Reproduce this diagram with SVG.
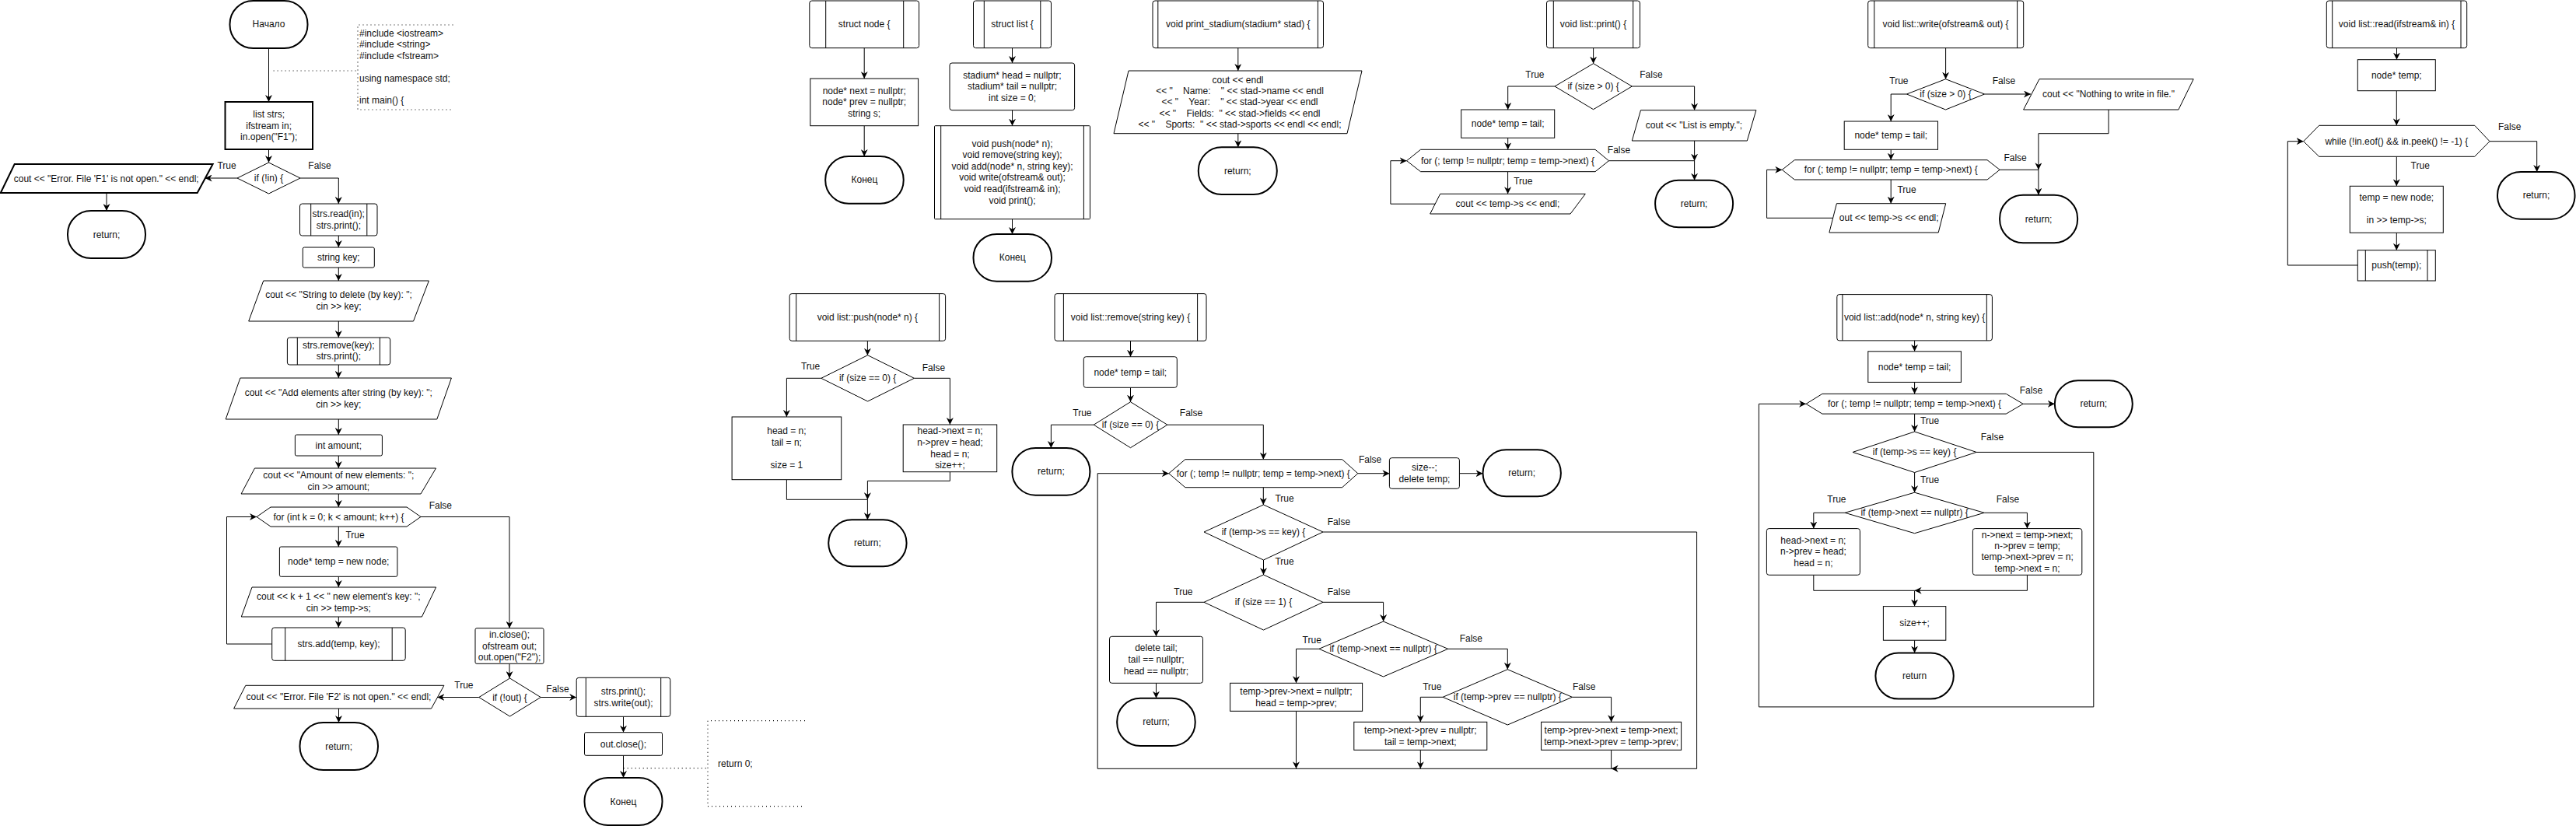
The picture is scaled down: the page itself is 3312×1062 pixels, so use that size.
<svg xmlns="http://www.w3.org/2000/svg" width="3312" height="1062" viewBox="0 0 3312 1062">
<style>
text { font-family: "Liberation Sans", Arial, sans-serif; font-size: 12px; fill: #111; text-anchor: middle; }
.l { text-anchor: start; }
.pre { white-space: pre; }
.n { fill: #fff; stroke: #000; stroke-width: 1; }
.t { fill: #fff; stroke: #000; stroke-width: 2; }
.in { fill: none; stroke: #000; stroke-width: 1; }
.e { fill: none; stroke: #000; stroke-width: 1; marker-end: url(#a); }
.p { fill: none; stroke: #000; stroke-width: 1; }
.d { fill: none; stroke: #000; stroke-width: 1.2; stroke-dasharray: 1 4; }
</style>
<defs>
<marker id="a" viewBox="0 0 10 10" refX="10" refY="5" markerWidth="9" markerHeight="9" orient="auto" markerUnits="userSpaceOnUse">
<path d="M0,0 L10,5 L0,10 L3,5 z" fill="#000"/>
</marker>
</defs>
<rect x="0" y="0" width="3312" height="1062" fill="#fff"/>

<!-- ================= connectors ================= -->
<g id="connectors">
<!-- main -->
<path class="e" d="M345.5,62 V131"/>
<path class="e" d="M345.5,192 V209"/>
<path class="e" d="M305,229 H263.6"/>
<path class="e" d="M137,248 V271"/>
<path class="e" d="M386,229 H435.3 V262"/>
<path class="e" d="M435.3,303 V318"/>
<path class="e" d="M435.3,344 V361"/>
<path class="e" d="M435.3,413 V434"/>
<path class="e" d="M435.3,469 V486"/>
<path class="e" d="M435.3,539 V559"/>
<path class="e" d="M435.3,586 V602"/>
<path class="e" d="M435.3,635 V652"/>
<path class="e" d="M435.3,677 V703"/>
<path class="e" d="M435.3,741.3 V755"/>
<path class="e" d="M435.3,793 V807"/>
<path class="e" d="M349.7,828 H291.5 V664.5 H330"/>
<path class="e" d="M541,664.5 H655 V807.7"/>
<path class="e" d="M655,853.3 V872"/>
<path class="e" d="M615.8,896.5 H562.4"/>
<path class="e" d="M435.5,911 V929"/>
<path class="e" d="M695.2,896.5 H741.2"/>
<path class="e" d="M801.5,921.3 V941.7"/>
<path class="e" d="M801.5,971.3 V1000"/>
<path class="d" d="M351.6,91 H460"/>
<path class="d" d="M801.7,987.7 H910"/>
<text x="291.5" y="217">True</text>
<text x="411" y="217">False</text>
<text x="566.3" y="654">False</text>
<text x="456.5" y="691.5">True</text>
<text x="596.4" y="885">True</text>
<text x="717" y="889.7">False</text>

<!-- structs -->
<path class="e" d="M1111.2,61.7 V101"/>
<path class="e" d="M1111.2,161.7 V201"/>
<path class="e" d="M1301.5,61.7 V81"/>
<path class="e" d="M1301.5,141.7 V161.7"/>
<path class="e" d="M1301.5,281.7 V301"/>
<path class="e" d="M1591.8,61.7 V91"/>
<path class="e" d="M1591.8,171.7 V189.3"/>

<!-- push -->
<path class="e" d="M1115.4,438.3 V456.7"/>
<path class="e" d="M1055.8,486.3 H1011.4 V536"/>
<path class="e" d="M1175.4,486.3 H1221.4 V546"/>
<path class="e" d="M1011.4,616.7 V642.3 H1115.4 V668.3"/>
<path class="e" d="M1221.4,606.7 V618.3 H1115.4 V642.3"/>
<text x="1042" y="474.7">True</text>
<text x="1200.4" y="476.7">False</text>

<!-- remove -->
<path class="e" d="M1453.5,438.3 V458.7"/>
<path class="e" d="M1453.5,498.3 V516.7"/>
<path class="e" d="M1406.2,546.2 H1351.4 V576"/>
<path class="e" d="M1500.9,546.2 H1624.3 V590.7"/>
<path class="e" d="M1745.8,608.7 H1786.4"/>
<path class="e" d="M1876.4,608.7 H1906.5"/>
<path class="e" d="M1624.3,626.7 V649"/>
<path class="e" d="M1624.5,720 V739"/>
<path class="e" d="M1548,774.3 H1486.5 V818.3"/>
<path class="e" d="M1486.5,878.3 V897.7"/>
<path class="e" d="M1701,774.3 H1778.6 V799"/>
<path class="e" d="M1695.9,834.3 H1666.5 V878.3"/>
<path class="e" d="M1861.7,834.3 H1938.3 V860.7"/>
<path class="e" d="M1855.1,896.3 H1826.3 V928.3"/>
<path class="e" d="M2021.4,896.3 H2071.6 V928.3"/>
<path class="e" d="M1666.5,914.3 V988.3"/>
<path class="e" d="M1826.3,964.3 V988.3"/>
<path class="e" d="M1701,684 H2181.6 V988.3 H2071.6"/>
<path class="e" d="M2071.6,964.3 V988.3 H1411.2 V608.7 H1502.8"/>
<text x="1391.4" y="534.7">True</text>
<text x="1531.5" y="534.7">False</text>
<text x="1761.6" y="594.7">False</text>
<text x="1651.5" y="644.7">True</text>
<text x="1721.4" y="674.7">False</text>
<text x="1651.5" y="726.3">True</text>
<text x="1521.4" y="764.7">True</text>
<text x="1721.4" y="764.7">False</text>
<text x="1686.7" y="826.7">True</text>
<text x="1891.3" y="824.7">False</text>
<text x="1841.3" y="886.7">True</text>
<text x="2036.7" y="886.7">False</text>

<!-- print -->
<path class="e" d="M2048.6,61.7 V81.7"/>
<path class="e" d="M1999,111 H1938.7 V141"/>
<path class="e" d="M1938.7,177.3 V192.3"/>
<path class="e" d="M1938.6,220.7 V249.3"/>
<path class="e" d="M1845.2,262.2 H1787.9 V206.7 H1808.6"/>
<path class="e" d="M2098.3,111 H2178.6 V141.7"/>
<path class="e" d="M2178.6,181 V206.7"/>
<path class="e" d="M2068.5,206.7 H2178.6 V231.7"/>
<text x="1973.4" y="99.7">True</text>
<text x="2122.9" y="99.7">False</text>
<text x="2081.5" y="197.3">False</text>
<text x="1958.3" y="237.3">True</text>

<!-- write -->
<path class="e" d="M2501.6,61.7 V101.7"/>
<path class="e" d="M2451.5,121 H2431.2 V156"/>
<path class="e" d="M2431.2,192.3 V205.7"/>
<path class="e" d="M2431.2,231 V261.7"/>
<path class="e" d="M2356.6,280.3 H2271.6 V218.3 H2291.3"/>
<path class="e" d="M2551.5,121 H2611"/>
<path class="e" d="M2711,141 V171.7 H2620.9 V218.3"/>
<path class="e" d="M2571.1,218.3 H2620.9 V250.7"/>
<text x="2441.4" y="108">True</text>
<text x="2576.4" y="108">False</text>
<text x="2591.1" y="207.3">False</text>
<text x="2451.5" y="247.7">True</text>

<!-- read -->
<path class="e" d="M3081.5,61.7 V76.7"/>
<path class="e" d="M3081.3,116.7 V161.3"/>
<path class="e" d="M3081.3,201.3 V239.3"/>
<path class="e" d="M3081.3,299.3 V321.7"/>
<path class="e" d="M3201,181.7 H3261.7 V221"/>
<path class="e" d="M3031.3,341 H2941.3 V181.7 H2961.7"/>
<text x="3226.7" y="167.3">False</text>
<text x="3111.7" y="217.3">True</text>

<!-- add -->
<path class="e" d="M2461.6,437.9 V451.8"/>
<path class="e" d="M2461.6,491.4 V506.4"/>
<path class="e" d="M2601.1,519.3 H2641.8"/>
<path class="e" d="M2461.6,532.1 V555"/>
<path class="e" d="M2461.6,607.5 V633.2"/>
<path class="e" d="M2372.1,659.3 H2331.8 V679.6"/>
<path class="e" d="M2551.1,659.3 H2606.4 V679.6"/>
<path class="e" d="M2331.8,739.3 V759.3 H2461.6 V779.6"/>
<path class="e" d="M2606.4,739.3 V759.3 H2461.6"/>
<path class="e" d="M2461.6,823.2 V839.6"/>
<path class="e" d="M2541.1,581.4 H2691.8 V908.9 H2261.4 V519.3 H2322.1"/>
<text x="2611.4" y="505.8">False</text>
<text x="2481" y="544.7">True</text>
<text x="2561.4" y="565.8">False</text>
<text x="2481" y="620.8">True</text>
<text x="2361.4" y="646.1">True</text>
<text x="2581.4" y="646.1">False</text>
</g>

<!-- ================= main ================= -->
<g id="start"><rect class="t" x="295.5" y="1" width="100" height="61" rx="30"/><text x="345.5" y="35">Начало</text></g>
<g id="annotation-includes">
<path class="d" d="M582.5,32 H460 V141 H582.5"/>
<text class="l" x="462" y="46.7">#include &lt;iostream&gt;</text>
<text class="l" x="462" y="61.2">#include &lt;string&gt;</text>
<text class="l" x="462" y="75.7">#include &lt;fstream&gt;</text>
<text class="l" x="462" y="104.7">using namespace std;</text>
<text class="l" x="462" y="133">int main() {</text>
</g>
<g id="init"><rect class="t" x="289.5" y="131" width="112.5" height="61"/>
<text x="345.7" y="151">list strs;</text><text x="345.7" y="165.5">ifstream in;</text><text x="345.7" y="180">in.open("F1");</text></g>
<g id="if-in"><polygon class="n" points="345.5,209 386,229 345.5,249 305,229"/><text x="345.5" y="233">if (!in) {</text></g>
<g id="err-f1"><polygon class="t" points="18.7,211 273.6,211 253.7,248 0.8,248"/><text x="136.7" y="233.5">cout &lt;&lt; "Error. File 'F1' is not open." &lt;&lt; endl;</text></g>
<g id="return-f1"><rect class="t" x="87" y="271" width="100" height="61" rx="30"/><text x="137" y="305.5">return;</text></g>
<g id="read-print"><rect class="n" x="385.5" y="262" width="99.5" height="41" rx="3"/><path class="in" d="M399.7,262 V303 M471.8,262 V303"/>
<text x="435.3" y="279">strs.read(in);</text><text x="435.3" y="294">strs.print();</text></g>
<g id="string-key"><rect class="n" x="389.3" y="318" width="92" height="26" rx="2"/><text x="435.3" y="335">string key;</text></g>
<g id="input-delete"><polygon class="n" points="338.7,361 551.4,361 531.5,413 319.7,413"/>
<text x="435.5" y="383">cout &lt;&lt; "String to delete (by key): ";</text><text x="435.5" y="398">cin &gt;&gt; key;</text></g>
<g id="remove-print"><rect class="n" x="369.4" y="434" width="132.3" height="35" rx="3"/><path class="in" d="M382.3,434 V469 M488.4,434 V469"/>
<text x="435.3" y="448">strs.remove(key);</text><text x="435.3" y="462.3">strs.print();</text></g>
<g id="input-add"><polygon class="n" points="308.9,486 580.4,486 561.8,539 290.2,539"/>
<text x="435.3" y="509">cout &lt;&lt; "Add elements after string (by key): ";</text><text x="435.3" y="524">cin &gt;&gt; key;</text></g>
<g id="int-amount"><rect class="n" x="379.4" y="559" width="112" height="27" rx="2"/><text x="435.3" y="576.5">int amount;</text></g>
<g id="input-amount"><polygon class="n" points="327.5,602 560.5,602 541,635 310.1,635"/>
<text x="435.3" y="615">cout &lt;&lt; "Amount of new elements: ";</text><text x="435.3" y="630">cin &gt;&gt; amount;</text></g>
<g id="for-k"><polygon class="n" points="330,664.5 348,652 523,652 541,664.5 523,677 348,677"/><text x="435.5" y="668.5">for (int k = 0; k &lt; amount; k++) {</text></g>
<g id="new-node"><rect class="n" x="359.4" y="703" width="151.5" height="38.3" rx="2"/><text x="435.2" y="726">node* temp = new node;</text></g>
<g id="input-key"><polygon class="n" points="324,755 560.6,755 542.4,793 310.3,793"/>
<text x="435.3" y="771">cout &lt;&lt; k + 1 &lt;&lt; " new element's key: ";</text><text x="435.3" y="786">cin &gt;&gt; temp-&gt;s;</text></g>
<g id="strs-add"><rect class="n" x="349.7" y="807" width="171.5" height="42.3" rx="3"/><path class="in" d="M366.7,807 V849.3 M504.2,807 V849.3"/>
<text x="435.5" y="832">strs.add(temp, key);</text></g>
<g id="open-out"><rect class="n" x="611" y="807.7" width="88" height="45.6" rx="2"/>
<text x="655" y="820">in.close();</text><text x="655" y="834.5">ofstream out;</text><text x="655" y="849">out.open("F2");</text></g>
<g id="if-out"><polygon class="n" points="655.5,872 695.2,896.5 655.5,921 615.8,896.5"/><text x="655.5" y="900.5">if (!out) {</text></g>
<g id="err-f2"><polygon class="n" points="315.8,881.3 570.9,881.3 554.5,911 300.6,911"/><text x="435.5" y="900">cout &lt;&lt; "Error. File 'F2' is not open." &lt;&lt; endl;</text></g>
<g id="return-f2"><rect class="t" x="385.5" y="929" width="100.5" height="61" rx="30"/><text x="435.7" y="963.5">return;</text></g>
<g id="print-write"><rect class="n" x="741.2" y="871.3" width="120.6" height="50" rx="3"/><path class="in" d="M753.3,871.3 V921.3 M849.7,871.3 V921.3"/>
<text x="801.5" y="893">strs.print();</text><text x="801.5" y="908">strs.write(out);</text></g>
<g id="out-close"><rect class="n" x="751.5" y="941.7" width="100" height="29.6" rx="2"/><text x="801.5" y="960.5">out.close();</text></g>
<g id="end-main"><rect class="t" x="751.5" y="1000" width="100" height="61" rx="30"/><text x="801.5" y="1034.5">Конец</text></g>
<g id="annotation-return"><path class="d" d="M1035,926.7 H910 V1036.7 H1035"/><text class="l" x="923" y="985.7">return 0;</text></g>

<!-- ================= structs ================= -->
<g id="struct-node"><rect class="n" x="1040.8" y="1" width="140.8" height="60.7" rx="3"/><path class="in" d="M1061.7,1 V61.7 M1161.7,1 V61.7"/><text x="1111.2" y="35">struct node {</text></g>
<g id="node-fields"><rect class="n" x="1041.8" y="101" width="138.8" height="60.7"/>
<text x="1111.2" y="120.7">node* next = nullptr;</text><text x="1111.2" y="135.2">node* prev = nullptr;</text><text x="1111.2" y="149.7">string s;</text></g>
<g id="end-node"><rect class="t" x="1061.2" y="201" width="100.5" height="60.7" rx="30"/><text x="1111.5" y="235.3">Конец</text></g>
<g id="struct-list"><rect class="n" x="1251.5" y="1" width="100" height="60.7" rx="3"/><path class="in" d="M1265.3,1 V61.7 M1337.8,1 V61.7"/><text x="1301.5" y="35">struct list {</text></g>
<g id="list-fields"><rect class="n" x="1221" y="81" width="160.6" height="60.7" rx="3"/>
<text x="1301.5" y="100.7">stadium* head = nullptr;</text><text x="1301.5" y="115.3">stadium* tail = nullptr;</text><text x="1301.5" y="130">int size = 0;</text></g>
<g id="list-methods"><rect class="n" x="1201.5" y="161.7" width="200" height="120" rx="1"/><path class="in" d="M1209.7,161.7 V281.7 M1393.4,161.7 V281.7"/>
<text x="1301.5" y="188.5">void push(node* n);</text><text x="1301.5" y="203.1">void remove(string key);</text><text x="1301.5" y="217.7">void add(node* n, string key);</text>
<text x="1301.5" y="232.3">void write(ofstream&amp; out);</text><text x="1301.5" y="246.9">void read(ifstream&amp; in);</text><text x="1301.5" y="261.5">void print();</text></g>
<g id="end-list"><rect class="t" x="1251.5" y="301" width="100.5" height="60.7" rx="30"/><text x="1301.7" y="335.3">Конец</text></g>
<g id="print-stadium"><rect class="n" x="1482" y="1" width="219.5" height="60.7" rx="3"/><path class="in" d="M1488.8,1 V61.7 M1694.4,1 V61.7"/><text x="1591.8" y="35">void print_stadium(stadium* stad) {</text></g>
<g id="stadium-output"><polygon class="n" points="1451,91 1751,91 1732,171.7 1432,171.7"/>
<text class="pre" x="1591.5" y="106.7">cout &lt;&lt; endl</text>
<text class="pre" x="1594" y="121">&lt;&lt; "    Name:    " &lt;&lt; stad-&gt;name &lt;&lt; endl</text>
<text class="pre" x="1594" y="135.3">&lt;&lt; "    Year:    " &lt;&lt; stad-&gt;year &lt;&lt; endl</text>
<text class="pre" x="1594" y="149.7">&lt;&lt; "    Fields:  " &lt;&lt; stad-&gt;fields &lt;&lt; endl</text>
<text class="pre" x="1594" y="164">&lt;&lt; "    Sports:  " &lt;&lt; stad-&gt;sports &lt;&lt; endl &lt;&lt; endl;</text></g>
<g id="return-stadium"><rect class="t" x="1540.8" y="189.3" width="101" height="60.7" rx="30"/><text x="1591.3" y="223.7">return;</text></g>

<!-- ================= push ================= -->
<g id="push"><rect class="n" x="1015.2" y="377.6" width="200.4" height="60.7" rx="3"/><path class="in" d="M1023.7,377.6 V438.3 M1207.6,377.6 V438.3"/><text x="1115.4" y="412">void list::push(node* n) {</text></g>
<g id="push-if"><polygon class="n" points="1115.6,456.7 1175.4,486.3 1115.6,516 1055.8,486.3"/><text x="1115.6" y="490.3">if (size == 0) {</text></g>
<g id="push-true"><rect class="n" x="941.1" y="536" width="140.6" height="80.7"/>
<text x="1011.4" y="558.3">head = n;</text><text x="1011.4" y="573">tail = n;</text><text x="1011.4" y="602">size = 1</text></g>
<g id="push-false"><rect class="n" x="1161.2" y="546" width="120.5" height="60.7"/>
<text x="1221.5" y="558.3">head-&gt;next = n;</text><text x="1221.5" y="573">n-&gt;prev = head;</text><text x="1221.5" y="587.7">head = n;</text><text x="1221.5" y="602.3">size++;</text></g>
<g id="push-return"><rect class="t" x="1065.2" y="668.3" width="100.4" height="60" rx="30"/><text x="1115.4" y="702.3">return;</text></g>

<!-- ================= remove ================= -->
<g id="remove"><rect class="n" x="1356" y="377.6" width="195" height="60.7" rx="3"/><path class="in" d="M1367.4,377.6 V438.3 M1539.6,377.6 V438.3"/><text x="1453.5" y="412">void list::remove(string key) {</text></g>
<g id="remove-temp"><rect class="n" x="1393.3" y="458.7" width="120" height="39.6" rx="3"/><text x="1453.3" y="482.5">node* temp = tail;</text></g>
<g id="remove-if-empty"><polygon class="n" points="1453.5,516.7 1500.9,546.2 1453.5,575.7 1406.2,546.2"/><text x="1453.5" y="550.2">if (size == 0) {</text></g>
<g id="remove-return-empty"><rect class="t" x="1301.4" y="576" width="100" height="60.7" rx="30"/><text x="1351.4" y="610.3">return;</text></g>
<g id="remove-for"><polygon class="n" points="1502.8,608.7 1523.8,590.7 1725.7,590.7 1745.8,608.7 1725.7,626.7 1523.8,626.7"/><text x="1624.3" y="612.7">for (; temp != nullptr; temp = temp-&gt;next) {</text></g>
<g id="remove-delete"><rect class="n" x="1786.4" y="588.7" width="90" height="39.6" rx="3"/><text x="1831.4" y="605">size--;</text><text x="1831.4" y="619.7">delete temp;</text></g>
<g id="remove-return"><rect class="t" x="1906.5" y="578.3" width="100.4" height="60" rx="30"/><text x="1956.7" y="612.3">return;</text></g>
<g id="remove-if-key"><polygon class="n" points="1624.5,649 1701,684 1624.5,720 1548,684"/><text x="1624.5" y="688">if (temp-&gt;s == key) {</text></g>
<g id="remove-if-size1"><polygon class="n" points="1624.5,739 1701,774.3 1624.5,810 1548,774.3"/><text x="1624.5" y="778.3">if (size == 1) {</text></g>
<g id="remove-delete-tail"><rect class="n" x="1426.5" y="818.3" width="120" height="60" rx="3"/>
<text x="1486.5" y="837.3">delete tail;</text><text x="1486.5" y="852">tail == nullptr;</text><text x="1486.5" y="866.7">head == nullptr;</text></g>
<g id="remove-return-single"><rect class="t" x="1436.2" y="897.7" width="100.5" height="61.3" rx="30"/><text x="1486.5" y="932.3">return;</text></g>
<g id="remove-if-next"><polygon class="n" points="1778.6,799 1861.7,834.3 1778.6,870 1695.9,834.3"/><text x="1778.6" y="838.3">if (temp-&gt;next == nullptr) {</text></g>
<g id="remove-last"><rect class="n" x="1581.6" y="878.3" width="170" height="36"/><text x="1666.5" y="892.7">temp-&gt;prev-&gt;next = nullptr;</text><text x="1666.5" y="907.7">head = temp-&gt;prev;</text></g>
<g id="remove-if-prev"><polygon class="n" points="1938.3,860.7 2021.4,896.3 1938.3,932 1855.1,896.3"/><text x="1938.3" y="900.3">if (temp-&gt;prev == nullptr) {</text></g>
<g id="remove-first"><rect class="n" x="1740.8" y="928.3" width="171" height="36"/><text x="1826.3" y="943.3">temp-&gt;next-&gt;prev = nullptr;</text><text x="1826.3" y="958">tail = temp-&gt;next;</text></g>
<g id="remove-middle"><rect class="n" x="1981.6" y="928.3" width="180" height="36"/><text x="2071.6" y="943.3">temp-&gt;prev-&gt;next = temp-&gt;next;</text><text x="2071.6" y="958">temp-&gt;next-&gt;prev = temp-&gt;prev;</text></g>

<!-- ================= print ================= -->
<g id="print"><rect class="n" x="1988.5" y="1" width="120" height="60.7" rx="3"/><path class="in" d="M1997.3,1 V61.7 M2099.7,1 V61.7"/><text x="2048.5" y="35">void list::print() {</text></g>
<g id="print-if"><polygon class="n" points="2048.6,81.7 2098.3,111 2048.6,140.7 1999,111"/><text x="2048.6" y="115">if (size &gt; 0) {</text></g>
<g id="print-temp"><rect class="n" x="1878.7" y="141" width="120" height="36.3"/><text x="1938.7" y="163.2">node* temp = tail;</text></g>
<g id="print-for"><polygon class="n" points="1808.6,206.7 1826.5,192.3 2051,192.3 2068.5,206.7 2051,220.7 1826.5,220.7"/><text x="1938.6" y="210.7">for (; temp != nullptr; temp = temp-&gt;next) {</text></g>
<g id="print-out"><polygon class="n" points="1851.7,249.3 2038.3,249.3 2019,275 1838.7,275"/><text x="1938.5" y="266.3">cout &lt;&lt; temp-&gt;s &lt;&lt; endl;</text></g>
<g id="print-empty"><polygon class="n" points="2109.5,141.7 2257.9,141.7 2246.3,181 2098.3,181"/><text x="2178" y="165">cout &lt;&lt; "List is empty.";</text></g>
<g id="print-return"><rect class="t" x="2128.1" y="231.7" width="100" height="60.6" rx="30"/><text x="2178.1" y="266">return;</text></g>

<!-- ================= write ================= -->
<g id="write"><rect class="n" x="2401.7" y="1" width="200" height="60.7" rx="3"/><path class="in" d="M2409.8,1 V61.7 M2593.6,1 V61.7"/><text x="2501.6" y="35">void list::write(ofstream&amp; out) {</text></g>
<g id="write-if"><polygon class="n" points="2501.5,101.7 2551.5,121 2501.5,141 2451.5,121"/><text x="2501.5" y="125">if (size &gt; 0) {</text></g>
<g id="write-temp"><rect class="n" x="2371.2" y="156" width="120.3" height="36.3"/><text x="2431.3" y="178.2">node* temp = tail;</text></g>
<g id="write-for"><polygon class="n" points="2291.3,218.3 2307.3,205.7 2555,205.7 2571.1,218.3 2555,231 2307.3,231"/><text x="2431.2" y="222.3">for (; temp != nullptr; temp = temp-&gt;next) {</text></g>
<g id="write-out"><polygon class="n" points="2361.4,261.7 2501.7,261.7 2492.2,299 2351.9,299"/><text x="2428.7" y="284">out &lt;&lt; temp-&gt;s &lt;&lt; endl;</text></g>
<g id="write-nothing"><polygon class="n" points="2622,101.7 2820.2,101.7 2800.9,141 2601.6,141"/><text x="2711" y="125">cout &lt;&lt; "Nothing to write in file."</text></g>
<g id="write-return"><rect class="t" x="2571.1" y="250.7" width="100" height="61.6" rx="30"/><text x="2621.1" y="285.5">return;</text></g>

<!-- ================= read ================= -->
<g id="read"><rect class="n" x="2991.3" y="1" width="180.4" height="60.7" rx="3"/><path class="in" d="M2998.7,1 V61.7 M3164,1 V61.7"/><text x="3081.5" y="35">void list::read(ifstream&amp; in) {</text></g>
<g id="read-temp"><rect class="n" x="3031.3" y="76.7" width="100" height="40"/><text x="3081.3" y="100.7">node* temp;</text></g>
<g id="read-while"><polygon class="n" points="2961.7,181.7 2981.7,161.3 3181.7,161.3 3201,181.7 3181.7,201.3 2981.7,201.3"/><text x="3081.3" y="185.7">while (!in.eof() &amp;&amp; in.peek() != -1) {</text></g>
<g id="read-return"><rect class="t" x="3211" y="221" width="99.5" height="60.7" rx="30"/><text x="3261" y="255.3">return;</text></g>
<g id="read-new"><rect class="n" x="3021.3" y="239.3" width="120" height="60"/><text x="3081.3" y="258.3">temp = new node;</text><text x="3081.3" y="287.3">in &gt;&gt; temp-&gt;s;</text></g>
<g id="read-push"><rect class="n" x="3031.3" y="321.7" width="100" height="39.3"/><path class="in" d="M3041.3,321.7 V361 M3121,321.7 V361"/><text x="3081.3" y="344.7">push(temp);</text></g>

<!-- ================= add ================= -->
<g id="add"><rect class="n" x="2361.8" y="378.6" width="199.6" height="59.3" rx="3"/><path class="in" d="M2368.9,378.6 V437.9 M2554.3,378.6 V437.9"/><text x="2461.6" y="411.5">void list::add(node* n, string key) {</text></g>
<g id="add-temp"><rect class="n" x="2401.8" y="451.8" width="119.6" height="39.6"/><text x="2461.6" y="475.6">node* temp = tail;</text></g>
<g id="add-for"><polygon class="n" points="2322.1,519.3 2342.9,506.4 2579.3,506.4 2601.1,519.3 2579.3,532.1 2342.9,532.1"/><text x="2461.6" y="523.3">for (; temp != nullptr; temp = temp-&gt;next) {</text></g>
<g id="add-return"><rect class="t" x="2641.8" y="489.3" width="100" height="60" rx="30"/><text x="2691.8" y="523.3">return;</text></g>
<g id="add-if-key"><polygon class="n" points="2461.6,555 2541.1,581.4 2461.6,607.5 2382.1,581.4"/><text x="2461.6" y="585.4">if (temp-&gt;s == key) {</text></g>
<g id="add-if-next"><polygon class="n" points="2461.6,633.2 2551.1,659.3 2461.6,685.7 2372.1,659.3"/><text x="2461.6" y="663.3">if (temp-&gt;next == nullptr) {</text></g>
<g id="add-at-head"><rect class="n" x="2271.4" y="679.6" width="120" height="59.7" rx="3"/>
<text x="2331.4" y="698.6">head-&gt;next = n;</text><text x="2331.4" y="712.9">n-&gt;prev = head;</text><text x="2331.4" y="727.6">head = n;</text></g>
<g id="add-insert"><rect class="n" x="2536.4" y="679.6" width="140.4" height="59.7" rx="3"/>
<text x="2606.6" y="691.9">n-&gt;next = temp-&gt;next;</text><text x="2606.6" y="706.1">n-&gt;prev = temp;</text><text x="2606.6" y="720.4">temp-&gt;next-&gt;prev = n;</text><text x="2606.6" y="734.7">temp-&gt;next = n;</text></g>
<g id="add-size"><rect class="n" x="2421.4" y="779.6" width="80.4" height="43.6"/><text x="2461.6" y="805.4">size++;</text></g>
<g id="add-end"><rect class="t" x="2411.4" y="839.6" width="100.4" height="59" rx="29.5"/><text x="2461.6" y="873">return</text></g>
</svg>
